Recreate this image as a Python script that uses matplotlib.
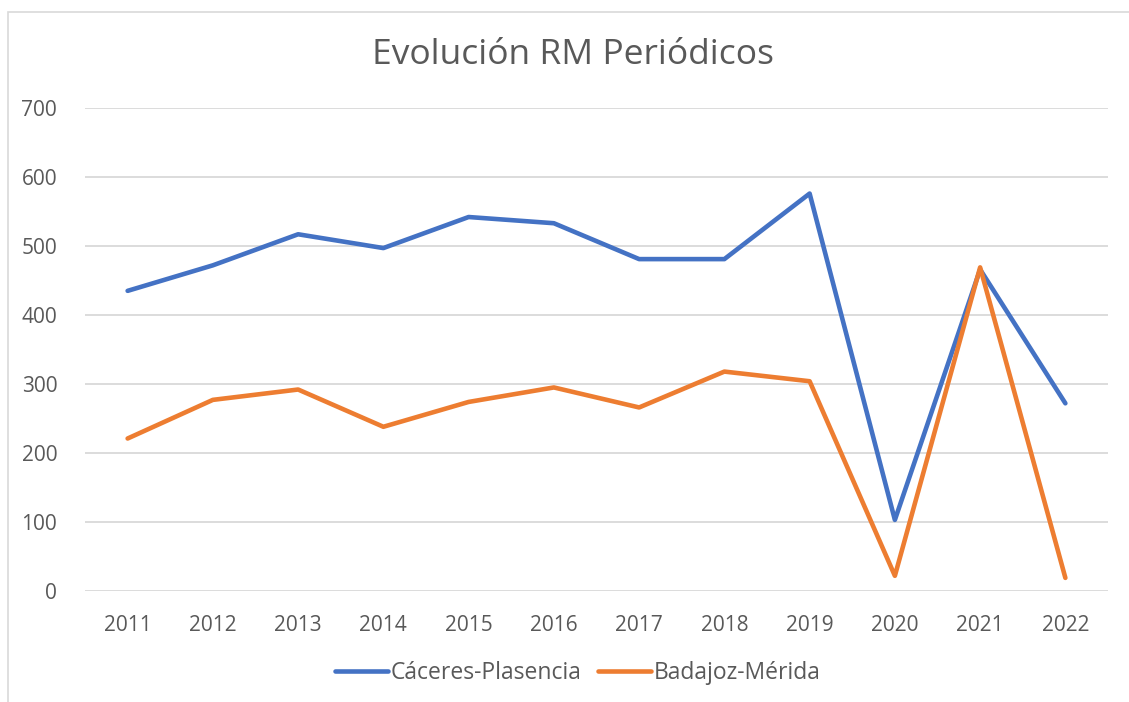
import matplotlib
matplotlib.use("Agg")
import matplotlib.pyplot as plt
from matplotlib.patches import Rectangle

years = ["2011", "2012", "2013", "2014", "2015", "2016",
         "2017", "2018", "2019", "2020", "2021", "2022"]
caceres = [435, 472, 517, 497, 542, 533, 481, 481, 576, 103, 466, 272]
badajoz = [221, 277, 292, 238, 274, 295, 266, 318, 304, 22, 469, 19]

plt.rcParams['font.family'] = ['Open Sans', 'DejaVu Sans']
text_col = '#595959'

fig = plt.figure(figsize=(11.29, 7.02), dpi=100)
W, H = 1129, 702
# axes in pixel coordinates: x 85..1108, y 108..591
ax = fig.add_axes([85 / W, 1 - 591 / H, (1108 - 85) / W, (591 - 108) / H])

# chart border (only left/top visible in the crop)
fig.patches.append(Rectangle((8 / W, -0.1), 1.2, 1 - 12 / H + 0.1,
                             transform=fig.transFigure, fill=False,
                             edgecolor='#d9d9d9', lw=1.2))

x = range(len(years))
ax.plot(x, caceres, color='#4472c4', lw=3.3, solid_capstyle='round',
        solid_joinstyle='round', label='Cáceres-Plasencia')
ax.plot(x, badajoz, color='#ed7d31', lw=3.3, solid_capstyle='round',
        solid_joinstyle='round', label='Badajoz-Mérida')

ax.set_xlim(-0.5, len(years) - 0.5)
ax.set_ylim(0, 700)
ax.set_yticks(range(0, 701, 100))
ax.set_xticks(list(x))
ax.set_xticklabels(years)
ax.grid(axis='y', color='#d9d9d9', lw=1.3)
ax.set_axisbelow(True)
for s in ax.spines.values():
    s.set_visible(False)
ax.tick_params(length=0, labelsize=15, colors=text_col)
ax.tick_params(axis='x', pad=17)
ax.tick_params(axis='y', pad=20)

fig.text(573 / W, 1 - 55 / H, 'Evolución RM Periódicos', ha='center',
         va='center', fontsize=25.5, color=text_col)

leg = fig.legend(loc='center', bbox_to_anchor=(578 / W, 1 - 673 / H),
                 ncol=2, frameon=False, fontsize=16.5, handlelength=2.3,
                 handletextpad=0.15, columnspacing=0.7)
for t in leg.get_texts():
    t.set_color(text_col)

fig.savefig('out.png', dpi=100)
